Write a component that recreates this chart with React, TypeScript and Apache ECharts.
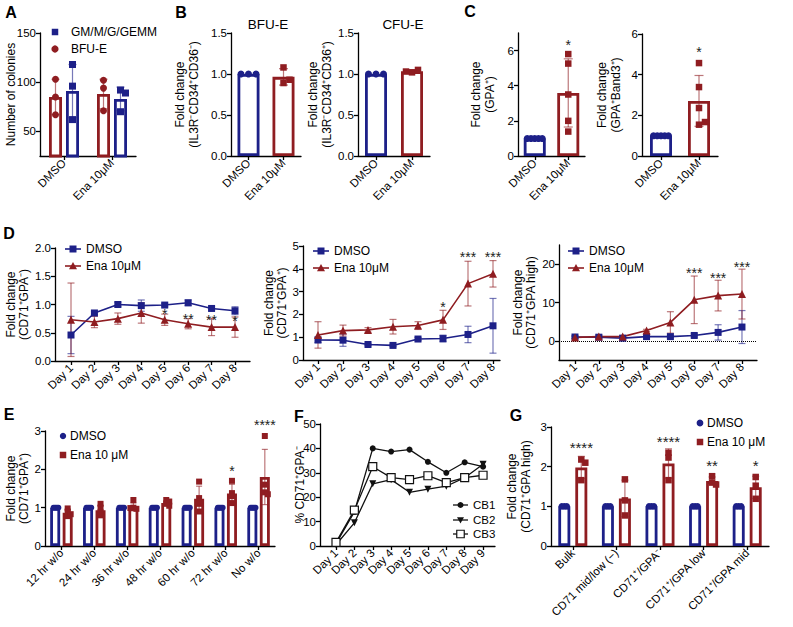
import React, { useEffect, useRef } from 'react';
import * as echarts from 'echarts';

const BLUE = '#1d2088';
const RED = '#8f1d21';
const BLUE_ERR = 'rgba(29,32,136,0.6)';
const RED_ERR = 'rgba(143,29,33,0.6)';
const BLACK = '#111111';
const FONT = '"Liberation Sans", Arial, Helvetica, sans-serif';

// ---------- Panel A ----------
const aGroups = ['DMSO', 'Ena 10μM'];
const aTicks = [50, 100, 150];
const aBfuMean = [85, 88];
const aBfuSd = [18, 15];
const aBfuPoints = [[103, 85, 67], [102, 94, 71]];
const aGmMean = [91, 83];
const aGmSd = [27, 12];
const aGmPoints = [[118, 96, 62], [92, 89, 70]];

// ---------- Panel B ----------
const bGroups = ['DMSO', 'Ena 10μM'];
const bTicks = [0, 0.5, 1, 1.5];
const bBfuMean = [1.0, 0.965];
const bBfuSd = [0, 0.1];
const bBfuPoints = [[1, 1, 1], [1.08, 0.89, 0.93]];
const bCfuMean = [1.0, 1.033];
const bCfuSd = [0, 0.02];
const bCfuPoints = [[1, 1, 1], [1.02, 1.05, 1.03]];

// ---------- Panel C ----------
const cGroups = ['DMSO', 'Ena 10μM'];
const cTicks = [0, 2, 4, 6];
const cGpaMean = [1.0, 3.59];
const cGpaSd = [0, 1.94];
const cGpaPoints = [[1, 1, 1, 1, 1], [5.8, 5.26, 3.5, 2.0, 1.39]];
const cGpaStars: [number, number, string][] = [[1, 6.5, '*']];
const cBandMean = [1.0, 2.71];
const cBandSd = [0, 1.25];
const cBandPoints = [[1, 1, 1, 1, 1], [4.57, 3.39, 2.36, 1.54, 1.67]];
const cBandStars: [number, number, string][] = [[1, 5.3, '*']];

// ---------- Panel D ----------
const days8 = ['Day 1', 'Day 2', 'Day 3', 'Day 4', 'Day 5', 'Day 6', 'Day 7', 'Day 8'];
const dNegTicks = [0, 0.5, 1, 1.5, 2];
const dNegDmso = [0.46, 0.85, 1.0, 0.98, 0.99, 1.03, 0.93, 0.89];
const dNegDmsoSd = [0.33, 0.03, 0.04, 0.1, 0.03, 0.05, 0.03, 0.07];
const dNegEna = [0.73, 0.69, 0.75, 0.85, 0.73, 0.66, 0.6, 0.6];
const dNegEnaSd = [0.65, 0.1, 0.1, 0.18, 0.1, 0.09, 0.15, 0.18];
const dNegStars: [number, number, string][] = [[5, 0.9, '*'], [6, 0.81, '**'], [7, 0.79, '**'], [8, 0.77, '*']];

const dPosTicks = [0, 1, 2, 3, 4, 5];
const dPosDmso = [0.88, 0.87, 0.68, 0.64, 0.92, 0.94, 1.12, 1.5];
const dPosDmsoSd = [0.12, 0.27, 0.05, 0.05, 0.07, 0.15, 0.36, 1.2];
const dPosEna = [1.1, 1.29, 1.32, 1.46, 1.51, 1.76, 3.35, 3.78];
const dPosEnaSd = [0.58, 0.24, 0.1, 0.32, 0.17, 0.42, 0.98, 0.58];
const dPosStars: [number, number, string][] = [[6, 2.49, '*'], [7, 4.67, '***'], [8, 4.67, '***']];

const dHighTicks = [0, 10, 20];
const dHighDmso = [1.0, 0.95, 0.7, 1.1, 1.1, 1.4, 2.2, 3.6];
const dHighDmsoSd = [0.3, 0.3, 0.2, 0.3, 0.3, 0.4, 2.0, 4.3];
const dHighEna = [0.9, 1.1, 1.1, 2.7, 4.8, 10.7, 11.8, 12.2];
const dHighEnaSd = [0.3, 0.4, 0.3, 0.3, 2.8, 6.2, 4.0, 6.5];
const dHighStars: [number, number, string][] = [[6, 18.7, '***'], [7, 17.4, '***'], [8, 20.3, '***']];

// ---------- Panel E ----------
const eGroups = ['12 hr w/o', '24 hr w/o', '36 hr w/o', '48 hr w/o', '60 hr w/o', '72 hr w/o', 'No w/o'];
const eTicks = [0, 1, 2, 3];
const eDmsoMean = [1, 1, 1, 1, 1, 1, 1];
const eDmsoPoints = [[1, 1, 1, 1], [1, 1, 1, 1], [1, 1, 1, 1], [1, 1, 1, 1], [1, 1, 1, 1], [1, 1, 1, 1], [1, 1, 1, 1]];
const eEnaMean = [0.87, 0.93, 1.02, 1.12, 1.23, 1.37, 1.8];
const eEnaSd = [0.08, 0.13, 0.1, 0.06, 0.33, 0.24, 0.72];
const eEnaPoints = [
  [0.98, 0.9, 0.78, 0.83],
  [1.1, 1.0, 0.88, 0.8],
  [1.2, 1.0, 0.97, 0.99],
  [1.2, 1.16, 1.1, 1.05],
  [1.68, 1.25, 1.1, 0.9],
  [1.7, 1.38, 1.3, 1.12],
  [2.87, 1.6, 1.4, 1.35],
];
const eStars: [number, number, string][] = [[5, 2.06, '*'], [6, 3.24, '****']];

// ---------- Panel F ----------
const days9 = ['Day 1', 'Day 2', 'Day 3', 'Day 4', 'Day 5', 'Day 6', 'Day 7', 'Day 8', 'Day 9'];
const fTicks = [0, 10, 20, 30, 40, 50];
const cb1 = [1.0, 14.0, 40.0, 38.7, 39.5, 34.5, 30.0, 34.3, 32.5];
const cb2 = [0.5, 9.5, 25.5, 27.2, 22.0, 23.3, 24.5, 28.0, 33.5];
const cb2Sd = [0, 0, 0, 0, 0, 0, 0, 0, 1.0];
const cb3 = [1.5, 14.7, 32.5, 28.0, 27.2, 28.8, 26.0, 28.0, 29.0];

// ---------- Panel G ----------
const gGroups = ['Bulk', 'CD71 mid/low (−)', 'CD71⁺/GPA⁻', 'CD71⁺/GPA low', 'CD71⁺/GPA mid'];
const gTicks = [0, 1, 2, 3];
const gDmsoMean = [1, 1, 1, 1, 1];
const gDmsoPoints = [[1, 1, 1], [1, 1, 1], [1, 1, 1], [1, 1, 1], [1, 1, 1]];
const gEnaMean = [1.98, 1.2, 2.08, 1.64, 1.48];
const gEnaSd = [0.28, 0.46, 0.37, 0.1, 0.28];
const gEnaPoints = [[2.18, 2.1, 1.66], [1.68, 1.15, 0.77], [2.35, 2.23, 1.66], [1.76, 1.6, 1.55], [1.74, 1.52, 1.19]];
const gStars: [number, number, string][] = [[0, 2.57, '****'], [2, 2.72, '****'], [3, 2.12, '**'], [4, 2.12, '*']];

function swarm(values: number[], pxPerUnit: number, step: number): number[] {
  const placed: { x: number; y: number }[] = [];
  const out: number[] = [];
  values.forEach((v) => {
    const y = v * pxPerUnit;
    let chosen = 0;
    for (let k = 0; k < 30; k++) {
      const cand = k === 0 ? 0 : (k % 2 ? 1 : -1) * Math.ceil(k / 2) * step;
      if (placed.every((p) => Math.hypot(p.x - cand, p.y - y) >= step - 0.01)) {
        chosen = cand;
        break;
      }
    }
    placed.push({ x: chosen, y });
    out.push(chosen);
  });
  return out;
}

function buildOption() {
  const grid: any[] = [];
  const xAxis: any[] = [];
  const yAxis: any[] = [];
  const series: any[] = [];
  const graphic: any[] = [];
  const AX = { color: '#000', width: 1.3 };
  const labelBase = { color: '#000', fontSize: 11.5, fontFamily: FONT };
  const BW = 2.8;

  const add = (box: any, x: any, y: any) => {
    const gi = grid.length;
    grid.push({ ...box, containLabel: false, outerBoundsMode: 'none' });
    xAxis.push({ ...x, gridIndex: gi });
    yAxis.push({ ...y, gridIndex: gi });
    return gi;
  };
  const catX = (data: string[]) => ({
    type: 'category', data, boundaryGap: true,
    axisLine: { show: true, onZero: false, lineStyle: AX },
    axisTick: { show: true, alignWithLabel: true, length: 4, lineStyle: AX },
    axisLabel: { ...labelBase, interval: 0, rotate: 45, margin: 5 },
    splitLine: { show: false },
  });
  const dayX = (labels: string[], min: number, max: number) => {
    const vals = labels.map((_, i) => i + 1);
    return {
      type: 'value', min, max,
      axisLine: { show: true, onZero: false, lineStyle: AX },
      axisTick: { show: true, length: 4, lineStyle: AX, customValues: vals },
      axisLabel: { ...labelBase, rotate: 45, margin: 5, customValues: vals, formatter: (v: number) => labels[Math.round(v) - 1] ?? '' },
      splitLine: { show: false },
    };
  };
  const valY = (min: number, max: number, ticks: number[], dec: number, name: string, gap: number, lh = 14) => ({
    type: 'value', min, max, name, nameLocation: 'middle', nameRotate: 90, nameGap: gap, nameMoveOverlap: false,
    nameTextStyle: { ...labelBase, fontSize: 12, lineHeight: lh },
    axisLine: { show: true, onZero: false, lineStyle: AX },
    axisTick: { show: true, length: 4, lineStyle: AX, customValues: ticks },
    axisLabel: { ...labelBase, margin: 4, customValues: ticks, formatter: (v: number) => v.toFixed(dec) },
    splitLine: { show: false },
  });

  const bar = (gi: number, values: number[], color: string | string[], bw: number, gapPx = 0) => ({
    type: 'bar', xAxisIndex: gi, yAxisIndex: gi, barWidth: bw, barGap: `${(gapPx / bw) * 100}%`, silent: true, z: 2,
    itemStyle: { color: '#ffffff', borderColor: Array.isArray(color) ? color[0] : color, borderWidth: BW },
    data: values.map((v, i) => ({ value: v, itemStyle: { color: '#ffffff', borderColor: Array.isArray(color) ? color[i] : color, borderWidth: BW } })),
  });
  const err = (gi: number, xs: number[], means: number[], sds: number[], dx: number, color: string, cap: number, width = 1.2) => ({
    type: 'custom', xAxisIndex: gi, yAxisIndex: gi, silent: true, z: 4,
    data: xs.map((x, k) => [x, means[k], sds[k]]),
    renderItem: (params: any, api: any) => {
      const x = api.value(0), m = api.value(1), s = api.value(2);
      if (!s) return { type: 'group', children: [] };
      const t = api.coord([x, m + s]);
      const b = api.coord([x, m - s]);
      const cx = t[0] + dx;
      const st = { stroke: color, lineWidth: width, fill: null };
      return {
        type: 'group', children: [
          { type: 'line', shape: { x1: cx, y1: t[1], x2: cx, y2: b[1] }, style: st },
          { type: 'line', shape: { x1: cx - cap / 2, y1: t[1], x2: cx + cap / 2, y2: t[1] }, style: st },
          { type: 'line', shape: { x1: cx - cap / 2, y1: b[1], x2: cx + cap / 2, y2: b[1] }, style: st },
        ],
      };
    },
  });
  const points = (gi: number, cats: number[], groups: number[][], offset: number, symbol: string, size: number, color: string, pxPerUnit: number, step: number) => {
    const data: any[] = [];
    groups.forEach((vals, gidx) => {
      const js = swarm(vals, pxPerUnit, step);
      vals.forEach((v, k) => data.push({ value: [cats[gidx], v], symbolOffset: [offset + js[k], 0] }));
    });
    return { type: 'scatter', xAxisIndex: gi, yAxisIndex: gi, symbol, symbolSize: size, silent: true, z: 6, itemStyle: { color, opacity: 1 }, data };
  };
  const stars = (gi: number, items: [number, number, string][], dx: number, fontSize: number) => ({
    type: 'custom', xAxisIndex: gi, yAxisIndex: gi, silent: true, z: 10,
    data: items.map((it) => [it[0], it[1]]),
    renderItem: (params: any, api: any) => {
      const p = api.coord([api.value(0), api.value(1)]);
      const text = items[params.dataIndex][2];
      return {
        type: 'text', x: p[0] + dx, y: p[1] + fontSize * 0.25,
        style: { text, fill: '#222', fontSize, fontFamily: FONT, align: 'center', verticalAlign: 'middle', textAlign: 'center', textVerticalAlign: 'middle' },
      };
    },
  });
  const line = (gi: number, ys: number[], color: string, symbol: string, size: number, extra: any = {}) => ({
    type: 'line', xAxisIndex: gi, yAxisIndex: gi, silent: true, z: 5, symbol, symbolSize: size, showSymbol: true,
    data: ys.map((y, i) => [i + 1, y]),
    lineStyle: { color, width: 1.6 }, itemStyle: { color }, ...extra,
  });

  // graphics helpers
  const txt = (x: number, y: number, text: string, size = 12, weight = 'normal', align = 'left') => ({
    type: 'text', x, y, silent: true,
    style: { text, fill: '#000', fontSize: size, fontWeight: weight, fontFamily: FONT, align, verticalAlign: 'middle', textAlign: align, textVerticalAlign: 'middle' },
  });
  const gRect = (cx: number, cy: number, s: number, fill: string, stroke?: string) => ({
    type: 'rect', silent: true, shape: { x: cx - s / 2, y: cy - s / 2, width: s, height: s },
    style: stroke ? { fill, stroke, lineWidth: 1.2 } : { fill },
  });
  const gCircle = (cx: number, cy: number, r: number, fill: string) => ({ type: 'circle', silent: true, shape: { cx, cy, r }, style: { fill } });
  const gTri = (cx: number, cy: number, s: number, fill: string, down = false) => ({
    type: 'polygon', silent: true,
    shape: { points: down ? [[cx - s / 2, cy - s / 2.5], [cx + s / 2, cy - s / 2.5], [cx, cy + s / 2]] : [[cx, cy - s / 2], [cx + s / 2, cy + s / 2.5], [cx - s / 2, cy + s / 2.5]] },
    style: { fill },
  });
  const gLine = (x1: number, y1: number, x2: number, y2: number, stroke: string, w = 1.6) => ({
    type: 'line', silent: true, shape: { x1, y1, x2, y2 }, style: { stroke, lineWidth: w },
  });

  // ===== Panel A =====
  {
    const box = { left: 40, top: 33, width: 96, height: 123 };
    const gi = add(box, catX(aGroups), valY(25, 150, aTicks, 0, 'Number of colonies', 22));
    const px = box.height / 125;
    const bw = 13, gap = 4, off = (bw + gap) / 2;
    series.push(bar(gi, aBfuMean, RED, bw, gap));
    series.push(bar(gi, aGmMean, BLUE, bw, gap));
    series.push(err(gi, [0, 1], aBfuMean, aBfuSd, -off, RED_ERR, 8));
    series.push(err(gi, [0, 1], aGmMean, aGmSd, off, BLUE_ERR, 8));
    series.push(points(gi, [0, 1], aBfuPoints, -off, 'circle', 7, RED, px, 5));
    series.push(points(gi, [0, 1], aGmPoints, off, 'rect', 7, BLUE, px, 5));
    graphic.push(gRect(55, 32, 6.5, BLUE), txt(71, 32, 'GM/M/G/GEMM', 12));
    graphic.push(gCircle(55, 49, 3.6, RED), txt(71, 49, 'BFU-E', 12));
  }

  // ===== Panel B =====
  const barPanelSingle = (box: any, means: number[], sds: number[], pts: number[][], ticks: number[], dec: number, max: number, name: string, gap: number, groups: string[], st?: [number, number, string][]) => {
    const gi = add(box, catX(groups), valY(0, max, ticks, dec, name, gap));
    const px = box.height / max;
    series.push(bar(gi, means, [BLUE, RED], 22));
    series.push(err(gi, [0, 1], means, sds, 0, RED_ERR, 9));
    series.push(points(gi, [0], [pts[0]], 0, 'circle', 7, BLUE, px, (22 - 7) / Math.max(1, pts[0].length - 1)));
    series.push(points(gi, [1], [pts[1]], 0, 'rect', 6.5, RED, px, 6));
    if (st) series.push(stars(gi, st, 0, 14));
    return gi;
  };
  barPanelSingle({ left: 231, top: 33, width: 70, height: 123 }, bBfuMean, bBfuSd, bBfuPoints, bTicks, 1, 1.5, 'Fold change\n(IL3R⁻CD34⁺CD36⁻)', 30, bGroups);
  barPanelSingle({ left: 358, top: 33, width: 72, height: 123 }, bCfuMean, bCfuSd, bCfuPoints, bTicks, 1, 1.5, 'Fold change\n(IL3R⁻CD34⁺CD36⁺)', 24, bGroups);
  graphic.push(txt(268, 24, 'BFU-E', 13.5, 'normal', 'center'));
  graphic.push(txt(403, 24, 'CFU-E', 13.5, 'normal', 'center'));

  // ===== Panel C =====
  barPanelSingle({ left: 518, top: 33, width: 67, height: 123 }, cGpaMean, cGpaSd, cGpaPoints, cTicks, 0, 7, 'Fold change\n(GPA⁺)', 21, cGroups, cGpaStars);
  barPanelSingle({ left: 642, top: 34, width: 76, height: 122 }, cBandMean, cBandSd, cBandPoints, cTicks, 0, 6, 'Fold change\n(GPA⁺Band3⁺)', 19, cGroups, cBandStars);

  // ===== Panel D =====
  const xs8 = days8.map((_, i) => i + 1);
  const dPanel = (box: any, xmin: number, xmax: number, ymin: number, ymax: number, ticks: number[], dec: number, name: string, gap: number,
    dm: number[], dmSd: number[], en: number[], enSd: number[], st: [number, number, string][], legX: number, legY: number, zeroLine = false) => {
    const gi = add(box, dayX(days8, xmin, xmax), valY(ymin, ymax, ticks, dec, name, gap, 13));
    series.push(err(gi, xs8, dm, dmSd, 0, BLUE_ERR, 7));
    series.push(err(gi, xs8, en, enSd, 0, RED_ERR, 7));
    const extra: any = zeroLine ? {
      markLine: { silent: true, symbol: 'none', label: { show: false }, lineStyle: { type: 'dotted', color: '#000', width: 1 }, data: [{ yAxis: 0 }] },
    } : {};
    series.push(line(gi, dm, BLUE, 'rect', 7, extra));
    series.push(line(gi, en, RED, 'triangle', 8));
    series.push(stars(gi, st, 0, 14));
    graphic.push(gLine(legX, legY, legX + 16, legY, BLUE), gRect(legX + 8, legY, 7, BLUE), txt(legX + 21, legY, 'DMSO', 12));
    graphic.push(gLine(legX, legY + 17, legX + 16, legY + 17, RED), gTri(legX + 8, legY + 17, 8, RED), txt(legX + 21, legY + 17, 'Ena 10μM', 12));
  };
  dPanel({ left: 55, top: 248, width: 195, height: 113 }, 0.317, 8.64, 0, 2, dNegTicks, 1, 'Fold change\n(CD71⁺GPA⁻)', 25,
    dNegDmso, dNegDmsoSd, dNegEna, dNegEnaSd, dNegStars, 65, 249);
  dPanel({ left: 303, top: 246, width: 197, height: 114 }, 0.4, 8.28, 0, 5, dPosTicks, 0, 'Fold change\n(CD71⁺GPA⁺)', 15,
    dPosDmso, dPosDmsoSd, dPosEna, dPosEnaSd, dPosStars, 313, 251);
  dPanel({ left: 559, top: 245, width: 198, height: 115 }, 0.33, 8.63, -5, 25, dHighTicks, 0, 'Fold change\n(CD71⁺GPA high)', 22,
    dHighDmso, dHighDmsoSd, dHighEna, dHighEnaSd, dHighStars, 568, 251, true);

  // ===== Panel E =====
  {
    const box = { left: 45, top: 431, width: 230, height: 115 };
    const gi = add(box, catX(eGroups), valY(0, 3, eTicks, 0, 'Fold change\n(CD71⁺GPA⁺)', 15, 13));
    const px = box.height / 3;
    const bw = 10, gap = 2.5, off = (bw + gap) / 2;
    const cats = eGroups.map((_, i) => i);
    series.push(bar(gi, eDmsoMean, BLUE, bw, gap));
    series.push(bar(gi, eEnaMean, RED, bw, gap));
    series.push(err(gi, cats, eEnaMean, eEnaSd, off, RED_ERR, 6));
    series.push(points(gi, cats, eDmsoPoints, -off, 'circle', 6, BLUE, px, 1.6));
    series.push(points(gi, cats, eEnaPoints, off, 'rect', 6, RED, px, 3));
    series.push(stars(gi, eStars, off, 14));
    graphic.push(gCircle(63, 436, 3.2, BLUE), txt(70, 436, 'DMSO', 12));
    graphic.push(gRect(63, 455, 6.5, RED), txt(70, 455, 'Ena 10 μM', 12));
  }

  // ===== Panel F =====
  {
    const box = { left: 320, top: 424, width: 175, height: 122 };
    const gi = add(box, dayX(days9, 0.13, 9.65), valY(0, 50, fTicks, 0, '% CD71⁺GPA⁻', 13));
    const xs9 = days9.map((_, i) => i + 1);
    series.push(err(gi, xs9, cb2, cb2Sd, 0, BLACK, 6, 1));
    series.push({ ...line(gi, cb1, BLACK, 'circle', 6), lineStyle: { color: BLACK, width: 1.3 } });
    series.push({ ...line(gi, cb2, BLACK, 'triangle', 7), symbolRotate: 180, lineStyle: { color: BLACK, width: 1.3 } });
    series.push({ ...line(gi, cb3, BLACK, 'rect', 8), lineStyle: { color: BLACK, width: 1.3 }, itemStyle: { color: '#ffffff', borderColor: BLACK, borderWidth: 1.2 } });
    graphic.push(gLine(453, 505, 468, 505, BLACK, 1.3), gCircle(460.5, 505, 3, BLACK), txt(473, 505, 'CB1', 11.5));
    graphic.push(gLine(453, 520, 468, 520, BLACK, 1.3), gTri(460.5, 520, 7, BLACK, true), txt(473, 520, 'CB2', 11.5));
    graphic.push(gLine(453, 534, 468, 534, BLACK, 1.3), gRect(460.5, 534, 7.5, '#ffffff', BLACK), txt(473, 534, 'CB3', 11.5));
  }

  // ===== Panel G =====
  {
    const box = { left: 551, top: 427, width: 218, height: 119 };
    const gi = add(box, catX(gGroups), valY(0, 3, gTicks, 0, 'Fold change\n(CD71⁺GPA high)', 18));
    const px = box.height / 3;
    const bw = 12, gap = 5, off = (bw + gap) / 2;
    const cats = gGroups.map((_, i) => i);
    series.push(bar(gi, gDmsoMean, BLUE, bw, gap));
    series.push(bar(gi, gEnaMean, RED, bw, gap));
    series.push(err(gi, cats, gEnaMean, gEnaSd, off, RED_ERR, 7));
    series.push(points(gi, cats, gDmsoPoints, -off, 'circle', 6.5, BLUE, px, 2.5));
    series.push(points(gi, cats, gEnaPoints, off, 'rect', 6.5, RED, px, 4));
    series.push(stars(gi, gStars, off, 15));
    graphic.push(gCircle(700, 423, 3.4, BLUE), txt(707, 423, 'DMSO', 12));
    graphic.push(gRect(700, 442, 6.5, RED), txt(707, 442, 'Ena 10 μM', 12));
  }

  // panel letters
  [['A', 11, 12], ['B', 181, 12], ['C', 470, 11], ['D', 9, 233], ['E', 9, 414], ['F', 299, 416], ['G', 516, 415]].forEach(([t, x, y]) => {
    graphic.push(txt(x as number, y as number, t as string, 16, 'bold', 'center'));
  });

  return {
    animation: false,
    backgroundColor: '#ffffff',
    textStyle: { fontFamily: FONT },
    grid, xAxis, yAxis, series, graphic,
  };
}

export default function App() {
  const ref = useRef<HTMLDivElement>(null);
  useEffect(() => {
    if (!ref.current) return;
    const chart = echarts.init(ref.current, undefined, { renderer: 'svg' });
    chart.setOption(buildOption() as any);
    return () => chart.dispose();
  }, []);
  return <div ref={ref} style={{ position: 'absolute', left: 0, top: 0, width: 793, height: 627, background: '#fff' }} />;
}
